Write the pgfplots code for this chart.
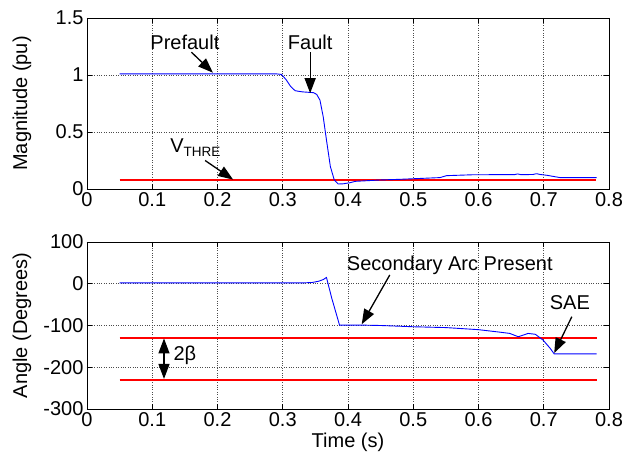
\documentclass[border=0pt]{standalone}
\usepackage{pgfplots}
\pgfplotsset{compat=1.18}
\usepackage{fontspec}
\setmainfont{Liberation Sans}
\usetikzlibrary{arrows.meta}
\definecolor{mred}{rgb}{1,0,0}
\definecolor{mblue}{rgb}{0,0,1}
\newcommand{\fs}{\fontsize{20}{23}\selectfont}
\pgfplotsset{mystyle/.style={
  scale only axis, width=522pt, xmin=0, xmax=0.8,
  xtick={0,0.1,0.2,0.3,0.4,0.5,0.6,0.7,0.8},
  tick align=inside, grid=major,
  major grid style={dotted, black!70, line width=0.6pt},
  axis line style={black, line width=0.6pt},
  tick style={black, line width=0.6pt},
  major tick length=5pt,
  ticklabel style={font=\fs},
  label style={font=\fs},
  /pgf/number format/assume math mode=true,
  /pgf/number format/fixed,
  ylabel style={at={(axis description cs:-0.1245,0.5)}, anchor=center},
}}
\tikzset{arr/.style={-{Triangle[length=15pt,width=11pt]}, line width=1.3pt}}
\begin{document}
\begin{tikzpicture}
\useasboundingbox (-87pt,-48pt) rectangle (537pt,409pt);
\begin{axis}[mystyle, at={(0pt,220pt)}, anchor=south west, height=171pt,
  ymin=0, ymax=1.5, ytick={0,0.5,1,1.5}, ylabel={Magnitude (pu)}]
\addplot[draw=mred, line width=1.5pt, forget plot] coordinates {(0.05,0.079) (0.78,0.079)};
\addplot[draw=mblue, line width=0.9pt, forget plot] coordinates {
(0.05,1.01) (0.20,1.01) (0.29,1.01) (0.298,1.005) (0.305,0.96) (0.312,0.90) (0.319,0.862)
(0.330,0.852) (0.347,0.845) (0.352,0.83) (0.357,0.78) (0.362,0.634) (0.367,0.43)
(0.373,0.196) (0.379,0.079) (0.385,0.044) (0.392,0.045) (0.403,0.055) (0.411,0.067)
(0.449,0.079) (0.480,0.085) (0.541,0.10) (0.551,0.117) (0.592,0.125) (0.655,0.126)
(0.660,0.132) (0.665,0.126) (0.683,0.127) (0.689,0.134) (0.695,0.127) (0.705,0.12)
(0.717,0.108) (0.725,0.10) (0.781,0.10)};
\node[font=\fs] at (axis cs:0.150,1.29) {Prefault};
\draw[arr] (axis cs:0.160,1.20) -- (axis cs:0.193,1.02);
\node[font=\fs] at (axis cs:0.342,1.29) {Fault};
\draw[arr] (axis cs:0.342,1.20) -- (axis cs:0.342,0.84);
\node[font=\fs] at (axis cs:0.166,0.36) {V\raisebox{-0.4ex}{\fontsize{13.5}{15}\selectfont THRE}};
\draw[arr] (axis cs:0.181,0.25) -- (axis cs:0.224,0.082);
\end{axis}
\begin{axis}[mystyle, at={(0pt,0pt)}, anchor=south west, height=167pt,
  ymin=-300, ymax=100, ytick={-300,-200,-100,0,100},
  ylabel={Angle (Degrees)}, xlabel={Time (s)},
  xlabel style={at={(axis description cs:0.5,-0.2)}, anchor=center}]
\addplot[draw=mred, line width=1.5pt, forget plot] coordinates {(0.05,-230) (0.781,-230)};
\addplot[draw=mred, line width=1.5pt, forget plot] coordinates {(0.05,-130) (0.781,-130)};
\addplot[draw=mblue, line width=0.9pt, forget plot] coordinates {
(0.05,2) (0.20,2) (0.33,2) (0.345,3) (0.355,6) (0.362,10) (0.367,15)
(0.375,-34) (0.387,-99) (0.42,-99) (0.45,-100) (0.5,-103) (0.55,-105)
(0.6,-110) (0.633,-116) (0.648,-119) (0.661,-127) (0.676,-119) (0.687,-121)
(0.699,-135) (0.710,-155) (0.716,-168) (0.781,-168)};
\node[font=\fs] at (axis cs:0.556,45) {Secondary Arc Present};
\draw[arr] (axis cs:0.464,21) -- (axis cs:0.421,-97);
\node[font=\fs] at (axis cs:0.740,-44) {SAE};
\draw[arr] (axis cs:0.743,-79) -- (axis cs:0.716,-166);
\node[font=\fs] at (axis cs:0.150,-171) {2β};
\draw[{Triangle[length=15pt,width=11pt]}-{Triangle[length=15pt,width=11pt]}, line width=1.3pt] (axis cs:0.118,-131) -- (axis cs:0.118,-228);
\end{axis}
\end{tikzpicture}
\end{document}
